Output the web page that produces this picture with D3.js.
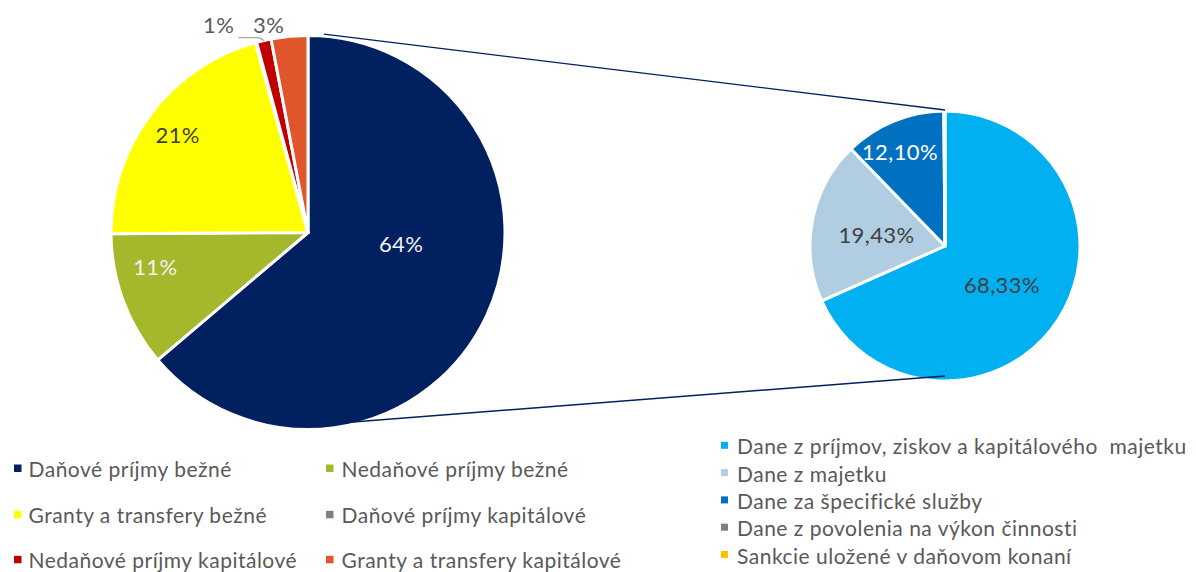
<!DOCTYPE html>
<html>
<head>
<meta charset="utf-8">
<script src="https://cdn.jsdelivr.net/npm/d3@7"></script>
<style>
  html, body { margin: 0; padding: 0; background: #ffffff; }
  svg { display: block; }
  text { font-family: Lato, "Open Sans", "DejaVu Sans", sans-serif; white-space: pre; }
</style>
</head>
<body>
<svg id="chart" width="1196" height="572"></svg>
<script>
// ---------------- DATA ----------------
const mainCategories = [
  "Daňové príjmy bežné",
  "Nedaňové príjmy bežné",
  "Granty a transfery bežné",
  "Daňové príjmy kapitálové",
  "Nedaňové príjmy kapitálové",
  "Granty a transfery kapitálové"
];
const mainValues = [63.8, 11.1, 20.8, 0.1, 1.2, 3.0];
const mainColors = ["#002060", "#A5B72A", "#FFFF00", "#808080", "#C00000", "#E0552B"];

const subCategories = [
  "Dane z príjmov, ziskov a kapitálového  majetku",
  "Dane z majetku",
  "Dane za špecifické služby",
  "Dane z povolenia na výkon činnosti",
  "Sankcie uložené v daňovom konaní"
];
const subValues = [68.33, 19.43, 12.10, 0.07, 0.07];
const subColors = ["#00B0F0", "#B0CDE2", "#0070C0", "#808080", "#FFC000"];

// label styling / placement (polar: angle offset from slice middle in degrees, radius fraction)
const mainLabelColors = ["#F2F2F2", "#F2F2F2", "#404040", "#595959", "#595959", "#595959"];
const mainLabelShift  = [-17.8, 7.8, -0.2, 0, -10.3, -5.3];
const mainLabelRadius = [0.476, 0.794, 0.827, 1.1, 1.149, 1.077];
const subLabelColors  = ["#404040", "#404040", "#FFFFFF", "#404040", "#404040"];
const subLabelShift   = [1.4, -1.1, -3.3, 0, 0];
const subLabelRadius  = [0.511, 0.515, 0.772, 1.1, 1.1];

// ---------------- LAYOUT ----------------
const svg = d3.select("#chart");
const main = { cx: 308, cy: 232.5, r: 197 };
const sub  = { cx: 945, cy: 246,   r: 135 };
const rad = Math.PI / 180;

const fmtLocale = d3.formatLocale({ decimal: ",", thousands: " ", grouping: [3], currency: ["", " €"] });
const fmtSub = v => fmtLocale.format(".2f")(v) + "%";
const fmtMain = v => d3.format(".0f")(v) + "%";

const pie = d3.pie().sort(null).value(d => d).startAngle(0).endAngle(2 * Math.PI);

function polar(c, angleRad, radius) {
  return [c.cx + radius * Math.sin(angleRad), c.cy - radius * Math.cos(angleRad)];
}

function drawPie(c, values, colors, labelColors, shifts, radii, fmt, showLabel) {
  const arcs = pie(values);
  const arc = d3.arc().innerRadius(0).outerRadius(c.r);
  const g = svg.append("g").attr("transform", `translate(${c.cx},${c.cy})`);
  g.selectAll("path").data(arcs).join("path")
    .attr("d", arc)
    .attr("fill", (d, i) => colors[i])
    .attr("stroke", "#ffffff")
    .attr("stroke-width", 3)
    .attr("stroke-linejoin", "round");
  const labels = [];
  arcs.forEach((d, i) => {
    if (!showLabel(values[i])) return;
    const mid = (d.startAngle + d.endAngle) / 2 + shifts[i] * rad;
    const [x, y] = polar(c, mid, radii[i] * c.r);
    labels.push({ x, y, i, d });
    svg.append("text")
      .attr("x", x).attr("y", y)
      .attr("text-anchor", "middle")
      .attr("dominant-baseline", "central")
      .attr("font-size", 22)
      .attr("letter-spacing", 0.4)
      .attr("fill", labelColors[i])
      .text(fmt(values[i]));
  });
  return { arcs, labels };
}

const mainRes = drawPie(main, mainValues, mainColors, mainLabelColors, mainLabelShift, mainLabelRadius, fmtMain, v => v >= 0.5);
drawPie(sub, subValues, subColors, subLabelColors, subLabelShift, subLabelRadius, fmtSub, v => v >= 1);

// leader line for the small "1%" slice
(function () {
  const idx = 4;
  const a = mainRes.arcs[idx];
  const lab = mainRes.labels.find(l => l.i === idx);
  const mid = (a.startAngle + a.endAngle) / 2;
  const [ex, ey] = polar(main, mid, main.r);
  const sx = lab.x + 20, sy = lab.y + 13;
  svg.append("path")
    .attr("d", `M${sx},${sy} L${ex - 7},${sy} Q${ex - 3},${sy} ${ex},${ey}`)
    .attr("fill", "none")
    .attr("stroke", "#A6A6A6")
    .attr("stroke-width", 1.3);
})();

// connector lines between the pies
const connColor = "#002060";
const up1 = polar(main, 4.6 * rad, main.r + 2), up2 = polar(sub, 0, sub.r + 1);
const lo1 = polar(main, 180 * rad, main.r - 4), lo2 = polar(sub, 180 * rad, sub.r - 5);
svg.append("line").attr("x1", up1[0]).attr("y1", up1[1]).attr("x2", up2[0]).attr("y2", up2[1])
  .attr("stroke", connColor).attr("stroke-width", 1.4);
svg.append("line").attr("x1", lo1[0]).attr("y1", lo1[1]).attr("x2", lo2[0]).attr("y2", lo2[1])
  .attr("stroke", connColor).attr("stroke-width", 1.4);

// ---------------- LEGENDS ----------------
const legFont = 21, legColor = "#595959", legSpacing = 0.5;
const leftCols = [14, 326];
const leftTextOffset = [14.5, 15.5];
const leftRows = [477, 523.3, 568.3];
mainCategories.forEach((name, i) => {
  const col = i % 2, row = Math.floor(i / 2);
  const x = leftCols[col], y = leftRows[row];
  svg.append("rect").attr("x", x).attr("y", y - 12.5).attr("width", 7.5).attr("height", 7.5)
    .attr("fill", mainColors[i]);
  svg.append("text").attr("x", x + leftTextOffset[col]).attr("y", y)
    .attr("font-size", legFont).attr("letter-spacing", legSpacing).attr("fill", legColor).text(name);
});

const rightX = 721, rightY0 = 454.3, rightStep = 27.3;
subCategories.forEach((name, i) => {
  const y = rightY0 + i * rightStep;
  svg.append("rect").attr("x", rightX).attr("y", y - 12.5).attr("width", 7).attr("height", 7)
    .attr("fill", subColors[i]);
  svg.append("text").attr("x", rightX + 16).attr("y", y)
    .attr("font-size", legFont).attr("letter-spacing", legSpacing).attr("fill", legColor).text(name);
});
</script>
</body>
</html>
